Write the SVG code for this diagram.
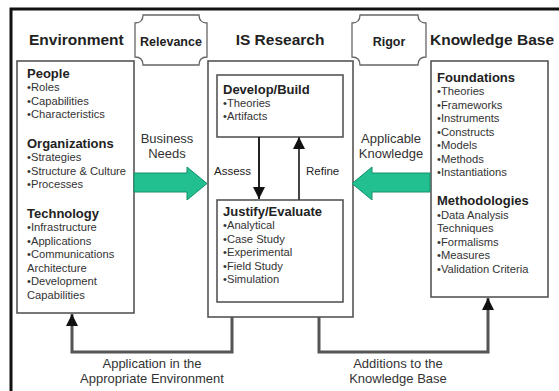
<svg xmlns="http://www.w3.org/2000/svg" width="559" height="391" viewBox="0 0 559 391">
<defs>
<style>
.t{font-family:"Liberation Sans",Arial,sans-serif;fill:#222}
.h{font-size:15.5px;font-weight:bold}
.b{font-size:13px;font-weight:bold}
.i{font-size:11.2px;fill:#333}
.box{fill:#fff;stroke:#555;stroke-width:1.6}
.con{fill:none;stroke:#555;stroke-width:3}
.ga{fill:#22bf90;stroke:#15906b;stroke-width:1}
.oct{fill:#fff;stroke:#666;stroke-width:1.3}
.lb{font-size:13px;fill:#333}
</style>
<marker id="ah" viewBox="0 0 10 10" refX="10" refY="5" markerWidth="4" markerHeight="4" orient="auto" markerUnits="strokeWidth">
<path d="M0,0 L10,5 L0,10 Z" fill="#111"/>
</marker>
<marker id="ah2" viewBox="0 0 10 10" refX="10" refY="5" markerWidth="6" markerHeight="6" orient="auto" markerUnits="strokeWidth">
<path d="M0,0 L10,5 L0,10 Z" fill="#111"/>
</marker>
</defs>
<rect width="559" height="391" fill="#fff"/>
<!-- outer frame -->
<path d="M11,391 V9 H559" fill="none" stroke="#111" stroke-width="3"/>

<!-- headings -->
<text class="t h" x="29" y="45">Environment</text>
<text class="t h" x="280" y="45" text-anchor="middle">IS Research</text>
<text class="t h" x="492" y="45" text-anchor="middle">Knowledge Base</text>

<g id="relevance">
<path class="oct" d="M143,15 H199 Q199,23 207,23 V57 Q199,57 199,65 H143 Q143,57 135,57 V23 Q143,23 143,15 Z"/>
<text class="t" x="171" y="46" text-anchor="middle" font-size="12.5" font-weight="bold">Relevance</text>
</g>
<g id="rigor">
<path class="oct" d="M360,15 H418 Q418,23 426,23 V57 Q418,57 418,65 H360 Q360,57 352,57 V23 Q360,23 360,15 Z"/>
<text class="t" x="389" y="46" text-anchor="middle" font-size="12.5" font-weight="bold">Rigor</text>
</g>

<g id="environment">
<rect class="box" x="17" y="61" width="117" height="252"/>
<text class="t b" x="27" y="78">People</text>
<text class="t i" x="27" y="91">•Roles</text>
<text class="t i" x="27" y="104.5">•Capabilities</text>
<text class="t i" x="27" y="118">•Characteristics</text>
<text class="t b" x="27" y="148">Organizations</text>
<text class="t i" x="27" y="161">•Strategies</text>
<text class="t i" x="27" y="174.5">•Structure &amp; Culture</text>
<text class="t i" x="27" y="188">•Processes</text>
<text class="t b" x="27" y="218">Technology</text>
<text class="t i" x="27" y="231">•Infrastructure</text>
<text class="t i" x="27" y="244.5">•Applications</text>
<text class="t i" x="27" y="258">•Communications</text>
<text class="t i" x="27" y="271.5">Architecture</text>
<text class="t i" x="27" y="285">•Development</text>
<text class="t i" x="27" y="298.5">Capabilities</text>
</g>

<g id="is-research">
<rect class="box" x="208" y="61" width="145" height="256"/>
</g>
<g id="develop-build">
<rect class="box" x="217" y="75" width="126" height="62"/>
<text class="t b" x="223" y="94">Develop/Build</text>
<text class="t i" x="223" y="107">•Theories</text>
<text class="t i" x="223" y="120">•Artifacts</text>
</g>
<g id="justify-evaluate">
<rect class="box" x="217" y="200" width="126" height="102"/>
<text class="t b" x="223" y="216">Justify/Evaluate</text>
<text class="t i" x="223" y="229">•Analytical</text>
<text class="t i" x="223" y="242.5">•Case Study</text>
<text class="t i" x="223" y="256">•Experimental</text>
<text class="t i" x="223" y="269.5">•Field Study</text>
<text class="t i" x="223" y="283">•Simulation</text>
</g>

<g id="knowledge-base">
<rect class="box" x="431" y="61" width="117" height="236"/>
<text class="t b" x="437" y="82">Foundations</text>
<text class="t i" x="437" y="95">•Theories</text>
<text class="t i" x="437" y="108.5">•Frameworks</text>
<text class="t i" x="437" y="122">•Instruments</text>
<text class="t i" x="437" y="135.5">•Constructs</text>
<text class="t i" x="437" y="149">•Models</text>
<text class="t i" x="437" y="162.5">•Methods</text>
<text class="t i" x="437" y="176">•Instantiations</text>
<text class="t b" x="437" y="205">Methodologies</text>
<text class="t i" x="437" y="218.5">•Data Analysis</text>
<text class="t i" x="437" y="232">Techniques</text>
<text class="t i" x="437" y="245.5">•Formalisms</text>
<text class="t i" x="437" y="259">•Measures</text>
<text class="t i" x="437" y="272.5">•Validation Criteria</text>
</g>

<g id="connectors">
<!-- green arrows -->
<path class="ga" d="M134,173 H187 V167 L207,183.5 L187,200 V192 H134 Z"/>
<path class="ga" d="M430,173 H372 V167 L352,183.5 L372,200 V192 H430 Z"/>
<text class="t lb" x="167" y="143" text-anchor="middle">Business</text>
<text class="t lb" x="167" y="158" text-anchor="middle">Needs</text>
<text class="t lb" x="391" y="143" text-anchor="middle">Applicable</text>
<text class="t lb" x="391" y="158" text-anchor="middle">Knowledge</text>
<!-- assess / refine -->
<line x1="259" y1="137" x2="259" y2="199" stroke="#222" stroke-width="2" marker-end="url(#ah2)"/>
<line x1="299" y1="200" x2="299" y2="137" stroke="#444" stroke-width="2" marker-end="url(#ah2)"/>
<text class="t" x="214" y="175" font-size="11.5" fill="#333">Assess</text>
<text class="t" x="306" y="175" font-size="11.5" fill="#333">Refine</text>
<!-- bottom loops -->
<path class="con" d="M232,317 V352 H72 V314" marker-end="url(#ah)"/>
<path class="con" d="M319,317 V352 H488 V298" marker-end="url(#ah)"/>
<text class="t lb" x="152" y="368" text-anchor="middle">Application in the</text>
<text class="t lb" x="152" y="383" text-anchor="middle">Appropriate Environment</text>
<text class="t lb" x="398" y="368" text-anchor="middle">Additions to the</text>
<text class="t lb" x="398" y="383" text-anchor="middle">Knowledge Base</text>
</g>
</svg>
